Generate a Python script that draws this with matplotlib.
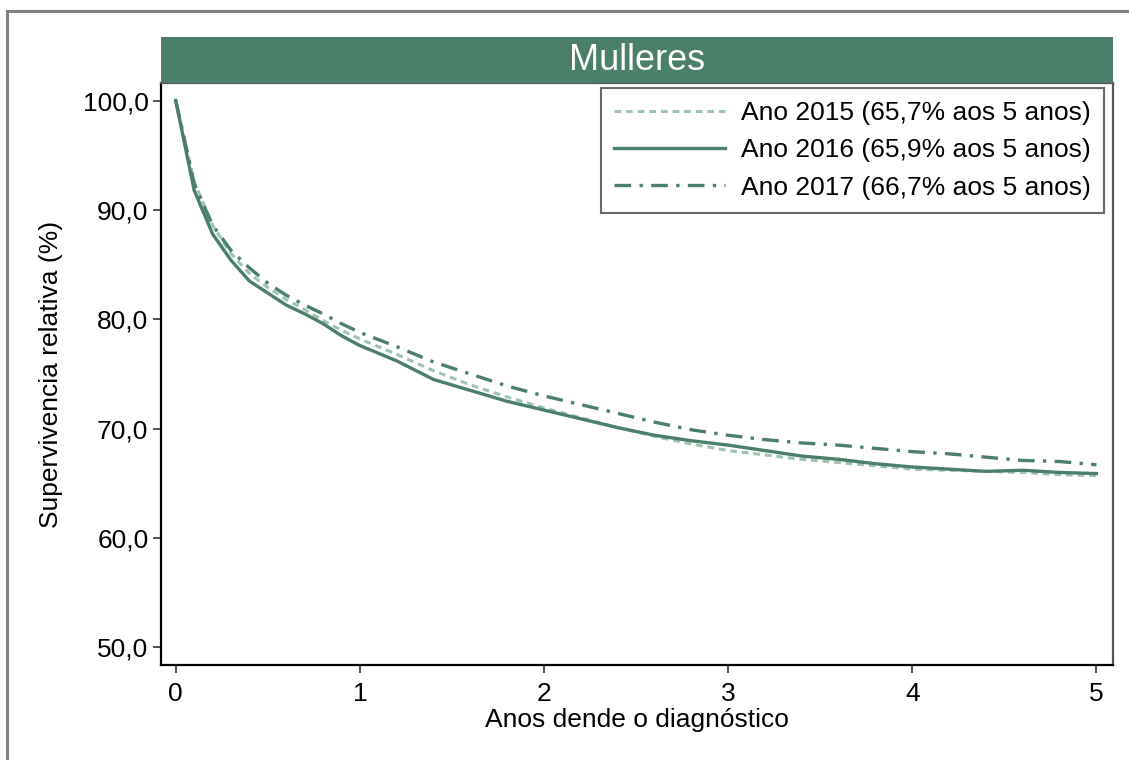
import numpy as np
import matplotlib.pyplot as plt
from matplotlib.patches import Rectangle

plt.rcParams['font.family'] = ['Liberation Sans', 'DejaVu Sans']

# anos dende o diagnostico
anos = [0, 0.1, 0.2, 0.3, 0.4, 0.5, 0.6, 0.7, 0.8, 0.9, 1.0, 1.2, 1.4, 1.6, 1.8,
        2.0, 2.2, 2.4, 2.6, 2.8, 3.0, 3.2, 3.4, 3.6, 3.8, 4.0, 4.2, 4.4, 4.6, 4.8, 5.0]

sup_2015 = [100, 92.6, 88.6, 86.0, 84.2, 82.9, 81.8, 80.9, 79.9, 79.0, 78.2, 76.8,
            75.3, 74.0, 72.9, 71.9, 71.0, 70.1, 69.3, 68.6, 68.0, 67.6, 67.2, 66.9,
            66.6, 66.3, 66.2, 66.1, 66.0, 65.8, 65.7]
sup_2016 = [100, 91.8, 87.8, 85.4, 83.5, 82.4, 81.3, 80.5, 79.6, 78.5, 77.6, 76.2,
            74.5, 73.5, 72.5, 71.7, 70.9, 70.1, 69.4, 68.9, 68.5, 68.0, 67.5, 67.2,
            66.8, 66.5, 66.3, 66.1, 66.2, 66.0, 65.9]
sup_2017 = [100, 92.4, 88.6, 86.3, 84.7, 83.3, 82.2, 81.3, 80.5, 79.6, 78.8, 77.5,
            76.1, 75.0, 73.9, 73.0, 72.2, 71.4, 70.6, 69.9, 69.4, 69.0, 68.7, 68.5,
            68.2, 67.9, 67.7, 67.4, 67.1, 67.0, 66.7]

etiquetas = ['Ano 2015 (65,7% aos 5 anos)',
             'Ano 2016 (65,9% aos 5 anos)',
             'Ano 2017 (66,7% aos 5 anos)']
xticks = [0, 1, 2, 3, 4, 5]
yticks = [50, 60, 70, 80, 90, 100]

verde = '#4a7f69'
verde_claro = '#9ec4b1'

W, H = 1129, 760
fig = plt.figure(figsize=(W / 100, H / 100), dpi=100)

# marco exterior gris
fig.patches.append(Rectangle((7 / W, -0.1), 1.2, 1 - 11 / H + 0.1,
                             transform=fig.transFigure, fill=False,
                             edgecolor='#808080', linewidth=2.2))

ax = fig.add_axes([161 / W, 1 - 665 / H, (1113 - 161) / W, (665 - 83) / H])
ax.plot(anos, sup_2015, color=verde_claro, lw=2.2, ls=(0, (2.2, 1.6)), label=etiquetas[0])
ax.plot(anos, sup_2016, color=verde, lw=2.4, ls='-', label=etiquetas[1])
ax.plot(anos, sup_2017, color=verde, lw=2.4, ls=(0, (5, 2.5, 1, 2.5)), label=etiquetas[2])

ax.set_xlim(-0.08, 5.09)
ax.set_ylim(48.4, 101.6)
ax.set_xticks(xticks)
ax.set_xticklabels([str(t) for t in xticks])
ax.set_yticks(yticks)
ax.set_yticklabels(['%d,0' % t for t in yticks])
ax.tick_params(axis='both', labelsize=19, length=6, width=1.2, color='#333333')
ax.tick_params(axis='x', pad=6)
ax.tick_params(axis='y', pad=3)
for s in ax.spines.values():
    s.set_linewidth(1.6)
    s.set_color('#555555')
ax.spines['left'].set_color('black')
ax.spines['bottom'].set_color('black')

ax.set_xlabel('Anos dende o diagnóstico', fontsize=19, labelpad=2)
ax.set_ylabel('Supervivencia relativa (%)', fontsize=19, labelpad=14)

leg = ax.legend(loc='upper right', fontsize=19, frameon=True, fancybox=False,
                edgecolor='#444444', handlelength=4.2, borderpad=0.5,
                labelspacing=0.5, handletextpad=0.6, borderaxespad=0,
                bbox_to_anchor=(1 - 9 / 952, 1 - 5 / 582))
leg.get_frame().set_linewidth(1.5)

# cabeceira
cab = fig.add_axes([161 / W, 1 - 83 / H, (1113 - 161) / W, (83 - 37) / H])
cab.set_facecolor(verde)
cab.set_xticks([])
cab.set_yticks([])
for s in cab.spines.values():
    s.set_visible(False)
cab.text(0.5, 0.5, 'Mulleres', color='white', fontsize=26, ha='center', va='center',
         transform=cab.transAxes)

fig.savefig('out.png', dpi=100)
